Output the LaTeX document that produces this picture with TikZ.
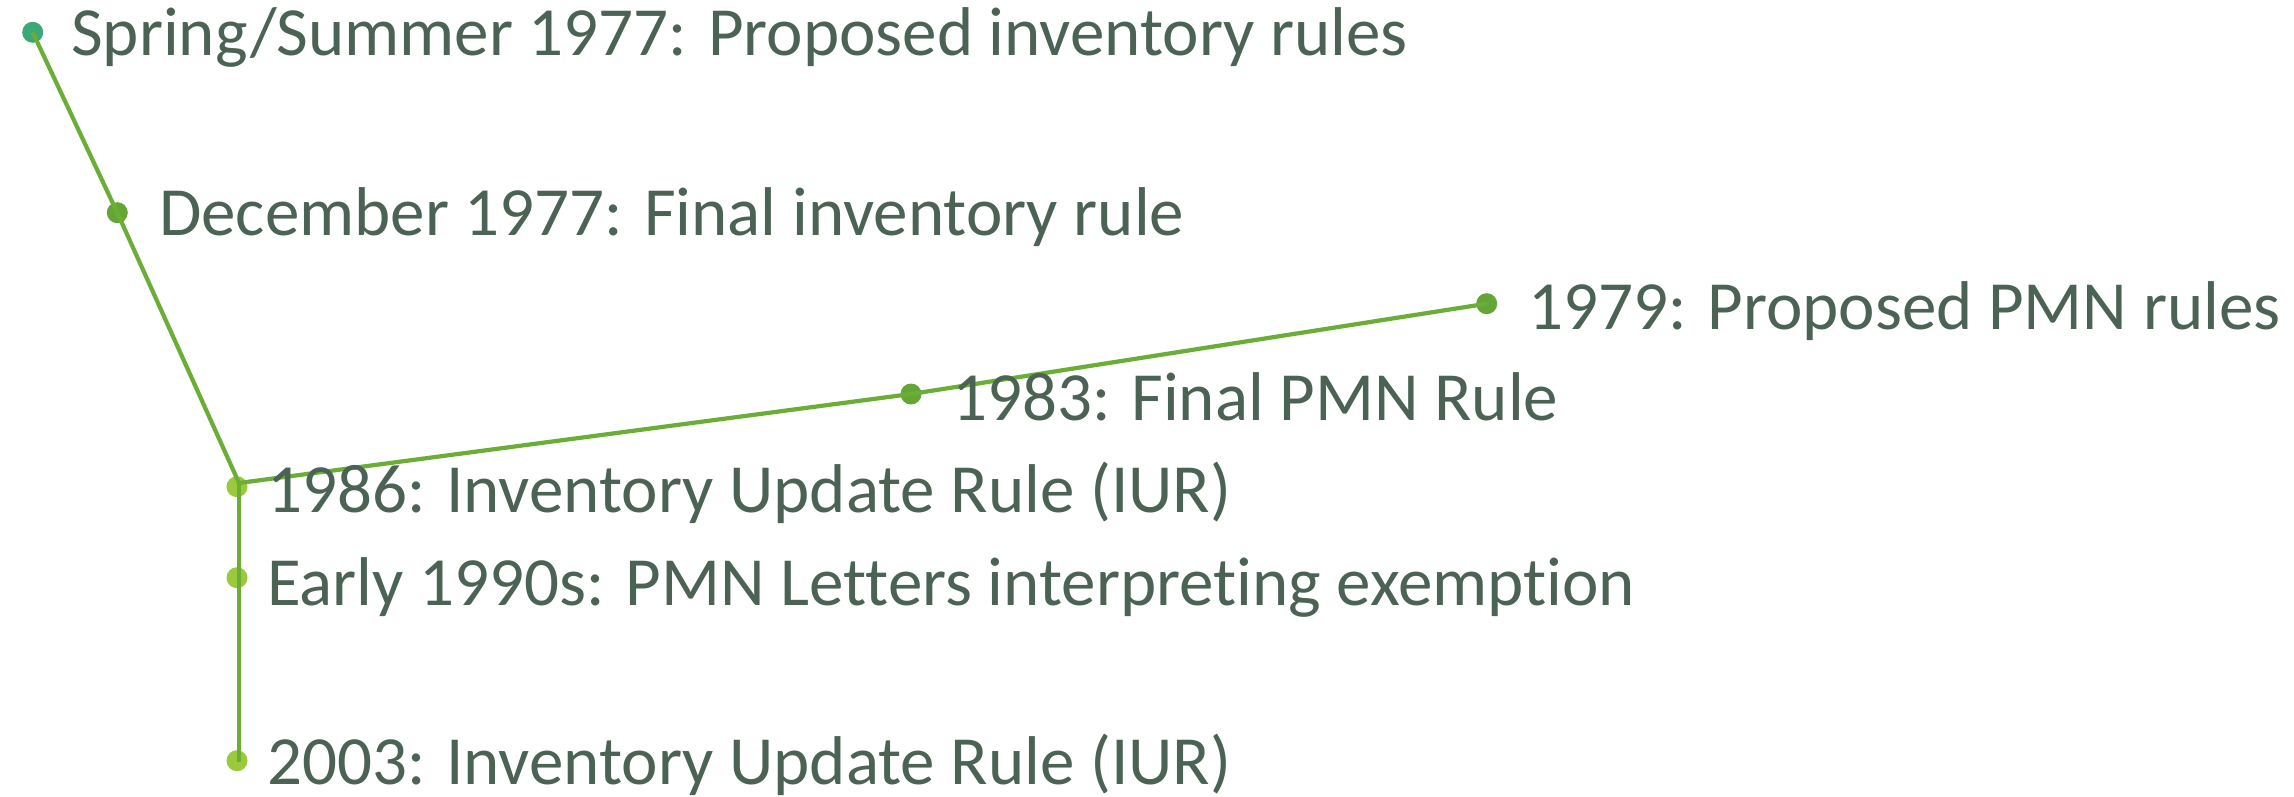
\documentclass[tikz,border=0pt]{standalone}
\usepackage{fontspec}
\setmainfont{Carlito}[Ligatures=NoCommon]
\definecolor{txtc}{HTML}{4B6354}
\definecolor{linec}{HTML}{6AAE38}
\definecolor{dotlight}{HTML}{9ACA3C}
\definecolor{dotmid}{HTML}{65A536}
\definecolor{dotteal}{HTML}{3AA877}
\begin{document}
\begin{tikzpicture}[x=1pt,y=-1pt,
  dotnode/.style={circle,inner sep=0pt,minimum size=21pt,draw=none},
  conn/.style={draw=linec,line width=4.2pt},
  lbl/.style={anchor=base west,inner sep=0pt,text=txtc,font=\fontsize{69}{80}\selectfont}]
\useasboundingbox (0,0) rectangle (2294,797);
\fill[white] (0,0) rectangle (2294,797);
% dots
\node[dotnode,fill=dotteal] (spring) at (32.7,32.3) {};
\node[dotnode,fill=dotmid] (dec) at (117.3,212.7) {};
\node[dotnode,fill=dotmid] (p79) at (1486.7,303.7) {};
\node[dotnode,fill=dotmid] (p83) at (911,394) {};
\node[dotnode,fill=dotlight] (i86) at (237,486.7) {};
\node[dotnode,fill=dotlight] (e90) at (237,577.7) {};
\node[dotnode,fill=dotlight] (i03) at (237,760.7) {};
\coordinate (junc) at (239,483);
\coordinate (vend) at (239,761.5);
% connectors
\draw[conn] (spring.center) -- (dec.center) -- (junc);
\draw[conn] (junc) -- (p83.center) -- (p79.center);
\draw[conn] (junc) -- (vend);
% labels
\node[lbl] (tspring) at (71,56) {Spring/Summer 1977: Proposed inventory rules};
\node[lbl] (tdec) at (159,235) {December 1977: Final inventory rule};
\node[lbl] (t79) at (1528,329) {1979: Proposed PMN rules};
\node[lbl] (t83) at (952,420) {1983: Final PMN Rule};
\node[lbl] (t86) at (267,512.5) {1986: Inventory Update Rule (IUR)};
\node[lbl] (t90) at (267,605) {Early 1990s: PMN Letters interpreting exemption};
\node[lbl] (t03) at (267,784) {2003: Inventory Update Rule (IUR)};
\end{tikzpicture}
\end{document}
